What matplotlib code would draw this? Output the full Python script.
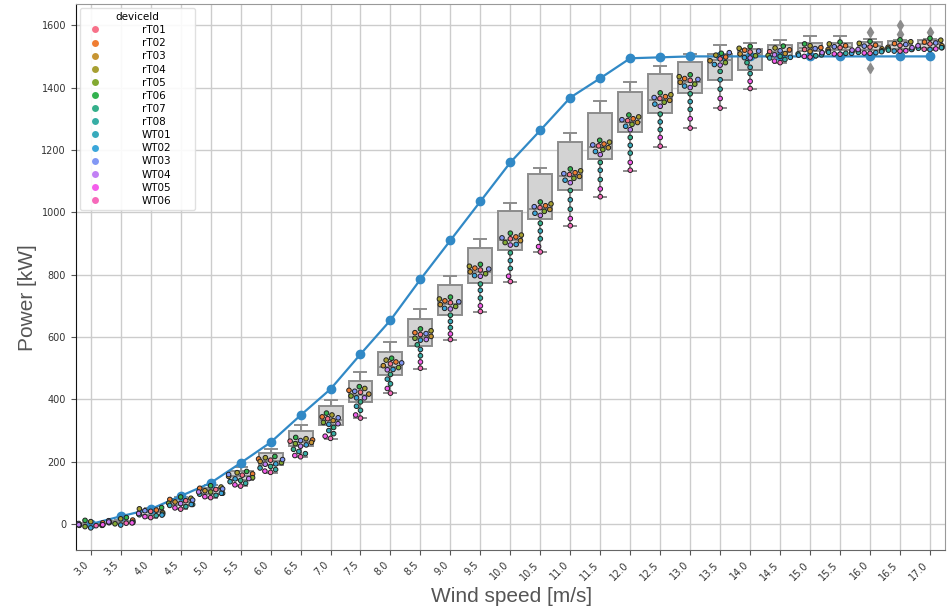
import warnings
import matplotlib
matplotlib.use("Agg")
import matplotlib.pyplot as plt
from matplotlib.lines import Line2D
import numpy as np
import pandas as pd
import seaborn as sns

warnings.filterwarnings("ignore")

# wind speed bins [m/s]
wind_bins = [3.0, 3.5, 4.0, 4.5, 5.0, 5.5, 6.0, 6.5, 7.0, 7.5, 8.0, 8.5, 9.0, 9.5,
             10.0, 10.5, 11.0, 11.5, 12.0, 12.5, 13.0, 13.5, 14.0, 14.5, 15.0,
             15.5, 16.0, 16.5, 17.0]

# theoretical power curve [kW]
theoretical_power = [0, 25, 48, 90, 132, 196, 262, 349, 433, 545, 654, 785, 910,
                     1035, 1160, 1263, 1368, 1430, 1494, 1497, 1500, 1500, 1500,
                     1500, 1500, 1500, 1500, 1500, 1500]

# box statistics per bin [kW]
box_q1 = [-2, 5, 30, 62, 97, 143, 190, 250, 317, 392, 479, 572, 672, 772, 879, 979,
          1073, 1170, 1256, 1320, 1382, 1425, 1457, 1500, 1517, 1521, 1519, 1525, 1528]
box_med = [0, 7, 38, 72, 108, 155, 203, 262, 335, 415, 505, 600, 705, 810, 910, 1010,
           1115, 1210, 1290, 1360, 1418, 1488, 1505, 1515, 1527, 1530, 1532, 1537, 1540]
box_q3 = [2, 10, 45, 80, 117, 170, 229, 299, 379, 460, 553, 659, 767, 885, 1003, 1124,
          1227, 1318, 1387, 1442, 1482, 1509, 1523, 1538, 1543, 1544, 1545, 1550, 1554]
box_lo = [-4, 3, 20, 48, 84, 121, 165, 215, 274, 339, 420, 497, 590, 681, 777, 872,
          957, 1049, 1134, 1211, 1269, 1333, 1396, 1479, 1496, 1507, 1505, 1516, 1520]
box_hi = [3, 13, 52, 88, 127, 183, 242, 317, 399, 487, 584, 691, 797, 915, 1030, 1141,
          1255, 1356, 1417, 1468, 1507, 1538, 1544, 1552, 1565, 1565, 1557, 1554, 1557]
box_fliers = [[]] * 26 + [[1578, 1463], [1600, 1571], [1578]]

# measured power per device and bin [kW]
device_ids = ["rT01", "rT02", "rT03", "rT04", "rT05", "rT06", "rT07", "rT08",
              "WT01", "WT02", "WT03", "WT04", "WT05", "WT06"]
rT01 = [0, 9, 41, 75, 111, 157, 205, 266, 338, 423, 514, 608, 710, 815, 915, 1015,
        1121, 1213, 1294, 1365, 1423, 1492, 1514, 1515, 1522, 1528, 1530, 1535, 1540]
rT02 = [4, 13, 45, 79, 115, 161, 209, 270, 344, 429, 520, 614, 716, 821, 921, 1021,
        1127, 1219, 1300, 1371, 1429, 1498, 1520, 1521, 1528, 1534, 1536, 1541, 1546]
rT03 = [-4, 5, 37, 71, 107, 153, 201, 262, 332, 417, 508, 602, 704, 809, 909, 1009,
        1115, 1207, 1288, 1359, 1417, 1486, 1508, 1509, 1516, 1522, 1524, 1529, 1534]
rT04 = [8, 17, 49, 83, 119, 165, 213, 274, 350, 435, 526, 620, 722, 827, 927, 1027,
        1133, 1225, 1306, 1377, 1435, 1504, 1526, 1527, 1534, 1540, 1542, 1547, 1552]
rT05 = [-8, 1, 33, 67, 103, 149, 197, 258, 326, 411, 502, 596, 698, 803, 903, 1003,
        1109, 1201, 1282, 1353, 1411, 1480, 1502, 1503, 1510, 1516, 1518, 1523, 1528]
rT06 = [12, 21, 53, 87, 123, 169, 217, 278, 356, 441, 532, 626, 728, 833, 933, 1033,
        1139, 1231, 1312, 1383, 1441, 1510, 1532, 1533, 1540, 1546, 1548, 1553, 1558]
rT07 = [-3, 6, 32, 63, 99, 140, 185, 240, 310, 392, 480, 575, 670, 770, 870, 965,
        1070, 1160, 1240, 1315, 1380, 1452, 1480, 1500, 1508, 1516, 1518, 1524, 1530]
rT08 = [-4, 5, 27, 56, 92, 131, 175, 226, 290, 365, 450, 540, 630, 725, 820, 915,
        1010, 1105, 1190, 1265, 1330, 1395, 1445, 1490, 1502, 1510, 1513, 1520, 1526]
WT01 = [-1, 5, 30, 60, 96, 136, 180, 233, 300, 378, 465, 560, 650, 750, 845, 940,
        1040, 1135, 1215, 1290, 1355, 1425, 1465, 1495, 1505, 1513, 1515, 1522, 1528]
WT02 = [-12, -3, 29, 63, 99, 145, 193, 254, 320, 405, 496, 590, 692, 797, 897, 997,
        1103, 1195, 1276, 1347, 1405, 1474, 1496, 1497, 1504, 1510, 1512, 1517, 1522]
WT03 = [2, 11, 43, 77, 113, 159, 207, 268, 341, 426, 517, 611, 713, 818, 918, 1018,
        1124, 1216, 1297, 1368, 1426, 1512, 1517, 1518, 1525, 1531, 1533, 1538, 1543]
WT04 = [-2, 7, 34, 66, 103, 146, 192, 250, 322, 405, 495, 592, 690, 795, 895, 990,
        1095, 1185, 1265, 1340, 1400, 1472, 1495, 1505, 1512, 1520, 1522, 1528, 1534]
WT05 = [-2, 4, 24, 52, 88, 126, 170, 220, 282, 350, 435, 520, 610, 700, 795, 890,
        980, 1075, 1160, 1240, 1300, 1365, 1420, 1485, 1500, 1508, 1511, 1518, 1524]
WT06 = [-5, 3, 21, 48, 85, 122, 166, 216, 275, 340, 420, 500, 592, 682, 778, 873,
        957, 1050, 1135, 1212, 1270, 1334, 1397, 1480, 1498, 1507, 1510, 1517, 1523]

device_power = [rT01, rT02, rT03, rT04, rT05, rT06, rT07, rT08,
                WT01, WT02, WT03, WT04, WT05, WT06]

bin_labels = [f"{w:.1f}" for w in wind_bins]
positions = np.arange(len(wind_bins))

df = pd.DataFrame({
    "wind": np.tile(bin_labels, len(device_ids)),
    "power": np.concatenate(device_power),
    "deviceId": np.repeat(device_ids, len(wind_bins)),
})

palette = sns.color_palette("husl", len(device_ids))

fig = plt.figure(figsize=(9.48, 6.08), dpi=100)
ax = fig.add_axes([0.0799, 0.0954, 0.9169, 0.898])

stats = []
for i in range(len(wind_bins)):
    stats.append(dict(q1=box_q1[i], med=box_med[i], q3=box_q3[i],
                      whislo=box_lo[i], whishi=box_hi[i], fliers=box_fliers[i]))

ax.bxp(stats, positions=positions, widths=0.8, patch_artist=True,
       boxprops=dict(facecolor="#d3d3d3", edgecolor="#8c8c8c", linewidth=1.4),
       medianprops=dict(color="#8c8c8c", linewidth=1.4),
       whiskerprops=dict(color="#8c8c8c", linewidth=1.4),
       capprops=dict(color="#8c8c8c", linewidth=1.4),
       flierprops=dict(marker="d", markerfacecolor="#8c8c8c",
                       markeredgecolor="#8c8c8c", markersize=5),
       manage_ticks=False, zorder=2)

ax.plot(positions, theoretical_power, color="#3189c6", marker="o",
        markersize=6, linewidth=1.6, zorder=3)

sns.swarmplot(data=df, x="wind", y="power", hue="deviceId", order=bin_labels,
              hue_order=device_ids, palette=palette, size=3.3, linewidth=0.7,
              edgecolor="#222222", ax=ax, legend=False, zorder=4)

ax.set_xlim(-0.5, 28.5)
ax.set_ylim(-83, 1668)
ax.set_xticks(positions)
ax.set_xticklabels(bin_labels, rotation=45, ha="right", fontsize=7, color="#333333")
ax.set_yticks(range(0, 1601, 200))
ax.tick_params(axis="y", labelsize=7, labelcolor="#333333")
ax.tick_params(length=3.5, color="#555555")

ax.grid(True, color="#cccccc", linewidth=1)
ax.set_axisbelow(True)

for side in ["top", "right"]:
    ax.spines[side].set_color("#999999")
ax.spines["bottom"].set_color("#666666")
ax.spines["left"].set_color("#111111")

ax.set_xlabel("Wind speed [m/s]", fontsize=15, color="#555555",
              family="Liberation Sans")
ax.set_ylabel("Power [kW]", fontsize=15, color="#555555", family="Liberation Sans")
ax.xaxis.set_label_coords(0.501, -0.068)
ax.yaxis.set_label_coords(-0.0445, 0.463)

handles = [Line2D([], [], marker="o", linestyle="", markersize=5,
                  markerfacecolor=c, markeredgewidth=0) for c in palette]
leg = ax.legend(handles, device_ids, title="deviceId", loc="upper left",
                bbox_to_anchor=(0.005, 0.6, 0.132, 0.393), mode="expand",
                borderaxespad=0, fontsize=7.5, title_fontsize=7.5,
                labelspacing=0.3, handletextpad=3.5, frameon=True, fancybox=True)
leg.get_frame().set_edgecolor("#dddddd")
leg.get_frame().set_alpha(0.9)

fig.savefig("out.png", dpi=100)
